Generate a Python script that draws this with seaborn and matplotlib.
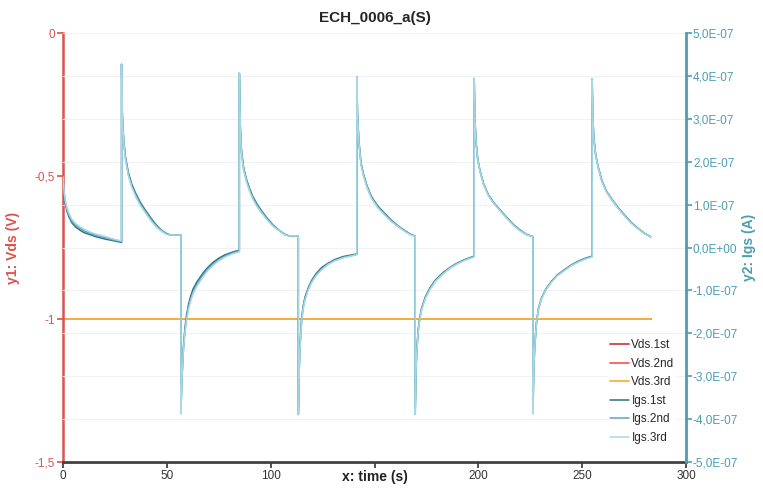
import seaborn as sns
from matplotlib import pyplot as plt

# time axis for the gate current (s); repeated times are the vertical steps
t_igs = [0, 0.3, 0.7, 1.2, 2, 3, 4.2, 6, 8, 10, 13, 16, 20, 24, 28.2,
         28.2, 28.4, 28.7, 29.2, 30, 31.4, 33, 35, 37, 39.5, 42.7, 45.5, 48, 50, 52, 56.8,
         56.8, 57.1, 57.5, 58, 58.7, 59.5, 60.5, 61.5, 62.7, 64.5, 67.5, 70, 72.4, 75, 78, 81.5, 84.9,
         84.9, 85.1, 85.3, 85.6, 86, 87, 88.4, 90, 91.5, 93.2, 95.5, 98, 101, 104.5, 107, 109, 113.3,
         113.3, 113.6, 113.9, 114.2, 114.9, 115.6, 116.5, 118, 119.7, 122, 124.5, 127.5, 130.9, 135, 141.5,
         141.5, 141.8, 142.5, 143.5, 144.6, 146.5, 148.6, 151.5, 155, 158, 161.4, 165, 168, 169.6,
         169.6, 169.9, 170.3, 171, 171.8, 172.7, 174.5, 176.7, 179.5, 183.1, 186.5, 189.6, 193.5, 198,
         198, 198.3, 198.8, 199.7, 200.8, 202.5, 204.8, 207.5, 210.4, 213.5, 216.8, 220, 223, 226.3,
         226.3, 226.6, 227.1, 228, 229, 230.4, 232.5, 235.2, 238, 241.7, 245, 248.1, 251.5, 254.8,
         254.8, 255.1, 255.6, 256.5, 257.7, 259.5, 261.7, 264.5, 267.3, 270.5, 273.7, 277, 280, 283]

# gate current, units of 1e-7 A
igs_1st = [1.65, 1.37, 1.16, 0.99, 0.83, 0.7, 0.58, 0.48, 0.41, 0.35, 0.3, 0.25, 0.2, 0.16, 0.12,
           4.27, 3.4, 2.9, 2.52, 2.13, 1.76, 1.49, 1.26, 1.07, 0.88, 0.66, 0.49, 0.38, 0.32, 0.29, 0.29,
           -3.87, -3.2, -2.78, -2.3, -1.89, -1.57, -1.31, -1.13, -0.96, -0.8, -0.59, -0.45, -0.34, -0.25, -0.17, -0.11, -0.06,
           4.06, 3.4, 2.93, 2.52, 2.23, 1.85, 1.58, 1.35, 1.18, 1.03, 0.86, 0.7, 0.53, 0.38, 0.3, 0.27, 0.27,
           -3.89, -3.08, -2.57, -2.21, -1.66, -1.38, -1.16, -0.95, -0.77, -0.6, -0.47, -0.37, -0.28, -0.21, -0.15,
           3.98, 3.1, 2.46, 1.97, 1.72, 1.42, 1.18, 0.97, 0.79, 0.64, 0.5, 0.38, 0.29, 0.27,
           -3.89, -2.98, -2.43, -1.94, -1.63, -1.41, -1.15, -0.94, -0.75, -0.58, -0.46, -0.37, -0.28, -0.2,
           3.94, 3.1, 2.51, 2.06, 1.79, 1.49, 1.23, 1.04, 0.88, 0.71, 0.54, 0.41, 0.31, 0.25,
           -3.87, -2.99, -2.34, -1.74, -1.41, -1.18, -0.97, -0.79, -0.64, -0.51, -0.4, -0.32, -0.25, -0.2,
           3.93, 3.1, 2.56, 2.16, 1.88, 1.56, 1.31, 1.11, 0.93, 0.75, 0.58, 0.44, 0.33, 0.25]
igs_2nd = [1.65, 1.4, 1.2, 1.03, 0.87, 0.74, 0.62, 0.52, 0.45, 0.39, 0.33, 0.28, 0.23, 0.18, 0.14,
           4.27, 3.4, 2.9, 2.5, 2.1, 1.72, 1.45, 1.22, 1.03, 0.85, 0.63, 0.47, 0.37, 0.31, 0.29, 0.29,
           -3.87, -3.2, -2.8, -2.35, -1.95, -1.64, -1.38, -1.2, -1.03, -0.86, -0.64, -0.49, -0.38, -0.29, -0.2, -0.13, -0.08,
           4.06, 3.4, 2.93, 2.5, 2.2, 1.82, 1.55, 1.32, 1.15, 1.0, 0.84, 0.68, 0.52, 0.38, 0.3, 0.27, 0.27,
           -3.89, -3.1, -2.6, -2.25, -1.7, -1.42, -1.2, -0.98, -0.8, -0.63, -0.5, -0.39, -0.3, -0.23, -0.16,
           3.98, 3.1, 2.45, 1.95, 1.7, 1.4, 1.16, 0.95, 0.77, 0.62, 0.49, 0.37, 0.29, 0.27,
           -3.89, -3.0, -2.45, -1.96, -1.65, -1.43, -1.17, -0.96, -0.77, -0.6, -0.47, -0.38, -0.29, -0.21,
           3.94, 3.1, 2.5, 2.05, 1.78, 1.48, 1.22, 1.03, 0.87, 0.7, 0.53, 0.4, 0.31, 0.25,
           -3.87, -3.0, -2.35, -1.75, -1.42, -1.19, -0.98, -0.8, -0.65, -0.52, -0.41, -0.33, -0.26, -0.21,
           3.93, 3.1, 2.55, 2.15, 1.87, 1.55, 1.3, 1.1, 0.92, 0.74, 0.57, 0.44, 0.33, 0.25]
igs_3rd = [1.65, 1.43, 1.24, 1.07, 0.91, 0.78, 0.66, 0.56, 0.49, 0.43, 0.36, 0.31, 0.26, 0.2, 0.15,
           4.27, 3.4, 2.88, 2.47, 2.07, 1.69, 1.42, 1.19, 1.0, 0.82, 0.6, 0.45, 0.36, 0.3, 0.29, 0.29,
           -3.87, -3.22, -2.83, -2.39, -1.99, -1.68, -1.42, -1.24, -1.07, -0.9, -0.68, -0.52, -0.41, -0.31, -0.22, -0.15, -0.1,
           4.06, 3.4, 2.92, 2.48, 2.17, 1.79, 1.52, 1.29, 1.12, 0.97, 0.81, 0.66, 0.5, 0.37, 0.29, 0.27, 0.27,
           -3.89, -3.12, -2.63, -2.28, -1.73, -1.45, -1.23, -1.0, -0.82, -0.65, -0.52, -0.4, -0.31, -0.24, -0.17,
           3.98, 3.09, 2.44, 1.93, 1.68, 1.38, 1.14, 0.93, 0.75, 0.61, 0.48, 0.36, 0.28, 0.27,
           -3.89, -3.02, -2.47, -1.98, -1.67, -1.45, -1.19, -0.98, -0.78, -0.61, -0.48, -0.39, -0.3, -0.22,
           3.94, 3.09, 2.49, 2.04, 1.77, 1.47, 1.21, 1.02, 0.86, 0.69, 0.52, 0.39, 0.3, 0.25,
           -3.87, -3.01, -2.36, -1.76, -1.43, -1.2, -0.99, -0.81, -0.66, -0.53, -0.42, -0.34, -0.27, -0.22,
           3.93, 3.09, 2.54, 2.14, 1.86, 1.54, 1.29, 1.09, 0.91, 0.73, 0.56, 0.43, 0.32, 0.25]

t_vds = [0, 283]
vds_1st = [-1, -1]
vds_2nd = [-1, -1]
vds_3rd = [-1, -1]

y1_ticks = [0, -0.5, -1, -1.5]
y1_labels = ['0', '-0,5', '-1', '-1,5']
y2_ticks = [5, 4, 3, 2, 1, 0, -1, -2, -3, -4, -5]
y2_labels = ['5,0E-07', '4,0E-07', '3,0E-07', '2,0E-07', '1,0E-07', '0,0E+00',
             '-1,0E-07', '-2,0E-07', '-3,0E-07', '-4,0E-07', '-5,0E-07']
x_ticks = [0, 50, 100, 150, 200, 250, 300]
x_labels = ['0', '50', '100', '', '200', '250', '300']  # 150 sits under the axis title

RED = '#d9534f'
TEAL = '#4c9db3'

sns.set_theme(style='white')
plt.rcParams['font.family'] = ['Liberation Sans', 'DejaVu Sans']

fig = plt.figure(figsize=(7.63, 4.97), dpi=100)
ax1 = fig.add_axes([0.0826, 0.0704, 0.8165, 0.8632])
ax2 = ax1.twinx()

# Vds on left axis
sns.lineplot(x=t_vds, y=vds_1st, ax=ax1, color='#c94545', lw=1.3, label='Vds.1st', legend=False)
sns.lineplot(x=t_vds, y=vds_2nd, ax=ax1, color='#ff5a5a', lw=1.3, label='Vds.2nd', legend=False)
sns.lineplot(x=t_vds, y=vds_3rd, ax=ax1, color='#f9b43c', lw=1.3, label='Vds.3rd', legend=False)

# Igs on right axis (estimator=None keeps the vertical steps)
for vals, col, name in [(igs_1st, '#2f6f80', 'Igs.1st'),
                        (igs_2nd, '#5ca6bd', 'Igs.2nd'),
                        (igs_3rd, '#a6d8e6', 'Igs.3rd')]:
    sns.lineplot(x=t_igs, y=vals, ax=ax2, color=col, lw=1.1, label=name,
                 estimator=None, sort=False, legend=False)

ax1.set_xlim(0, 300)
ax1.set_ylim(-1.5, 0)
ax2.set_ylim(-5, 5)

ax1.set_xticks(x_ticks, x_labels)
ax1.set_yticks(y1_ticks, y1_labels)
ax2.set_yticks(y2_ticks, y2_labels)

# faint horizontal grid from the right axis
for v in y2_ticks:
    ax2.axhline(v, color='#f2f2f2', lw=0.8, zorder=0)

for s in ['top', 'right']:
    ax1.spines[s].set_visible(False)
ax1.spines['left'].set_color(RED)
ax1.spines['left'].set_linewidth(1.8)
ax1.spines['bottom'].set_color('#404040')
ax1.spines['bottom'].set_linewidth(2)
for s in ['top', 'left', 'bottom']:
    ax2.spines[s].set_visible(False)
ax2.spines['right'].set_color(TEAL)
ax2.spines['right'].set_linewidth(2)

ax1.tick_params(axis='y', colors=RED, labelsize=8.5, length=4, width=1.2, left=True, pad=2)
ax1.tick_params(axis='x', colors='#333333', labelsize=8.5, length=4, width=1.2, bottom=True, pad=2)
ax2.tick_params(axis='y', colors=TEAL, labelsize=8.5, length=4, width=1.2, right=True, pad=1)

ax1.set_xlabel('x: time (s)', fontsize=10, fontweight='bold', color='#222222')
ax1.xaxis.set_label_coords(0.5, -0.036)
ax1.xaxis.label.set_va('center')
ax1.set_ylabel('y1: Vds (V)', fontsize=10, fontweight='bold', color=RED, labelpad=10)
ax2.set_ylabel('y2: Igs (A)', fontsize=10, fontweight='bold', color=TEAL, labelpad=3)
ax1.set_title('ECH_0006_a(S)', fontsize=11, fontweight='bold', pad=8)

h1, l1 = ax1.get_legend_handles_labels()
h2, l2 = ax2.get_legend_handles_labels()
ax2.legend(h1 + h2, l1 + l2, loc='upper left', bbox_to_anchor=(0.865, 0.305),
           frameon=True, facecolor='white', edgecolor='none', fontsize=8.5,
           handlelength=1.6, handletextpad=0.2, labelspacing=0.55, borderpad=0.2)

fig.savefig('out.png', dpi=100)
